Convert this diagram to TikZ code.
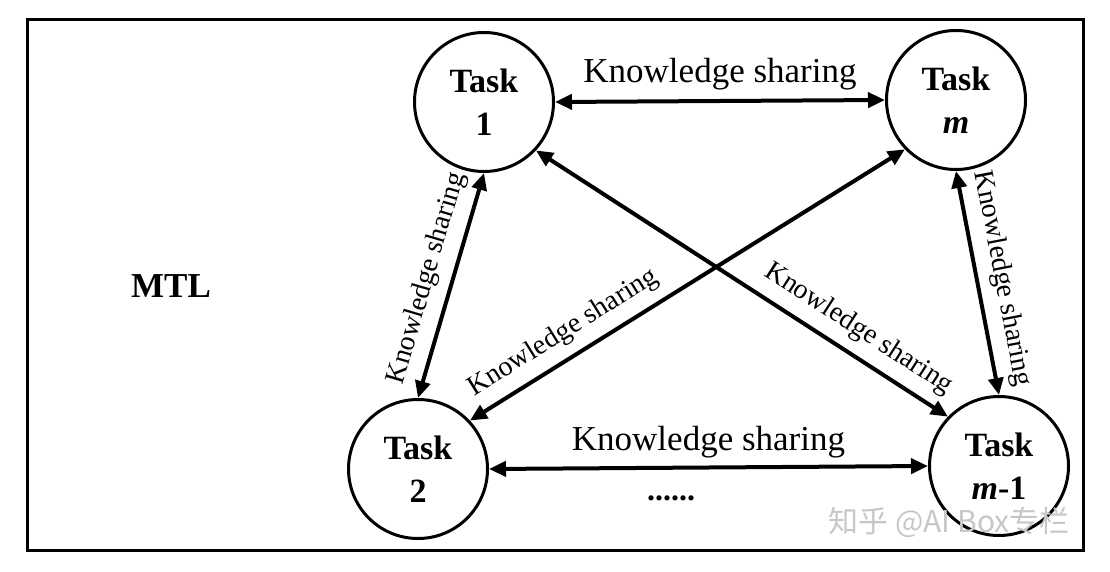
\documentclass[tikz,border=0pt]{standalone}
\usepackage{fontspec}
\setmainfont{Liberation Serif}
\newfontfamily\cjk{Noto Sans CJK SC}
\usetikzlibrary{arrows.meta}
\begin{document}
\begin{tikzpicture}[x=1pt,y=-1pt,
  taskbox/.style={circle,draw,line width=3pt,minimum size=139pt,inner sep=0pt,align=center,
    font=\fontsize{34}{43}\selectfont\bfseries},
  share/.style={line width=4pt,{Triangle[length=17pt,width=15pt]}-{Triangle[length=17pt,width=15pt]}},
  lbl/.style={font=\fontsize{35}{40}\selectfont},
  slbl/.style={font=\fontsize{28}{32}\selectfont,sloped,above=7pt}
]
\useasboundingbox (0,0) rectangle (1110,572);
\draw[line width=3pt] (27,20) rectangle (1083,550);
\node[taskbox] (t1) at (484,102) {Task\\1};
\node[taskbox] (tm) at (956,100) {Task\\\textit{m}};
\node[taskbox] (t2) at (418,469) {Task\\2};
\node[taskbox] (tm1) at (999,466) {Task\\\textit{m}-1};
\node[font=\fontsize{35}{40}\selectfont\bfseries] (mtl) at (171,286) {MTL};
\draw[share] (t1.east) -- node[lbl,above=6pt] (l1) {Knowledge sharing} (tm.west);
\draw[share] (t2.east) -- node[lbl,above=4pt] (l2) {Knowledge sharing} (tm1.west);
\node[font=\fontsize{32}{36}\selectfont\bfseries] (dots) at (671,498) {......};
\draw[share] (t2.north) -- node[slbl] (l3) {Knowledge sharing} (t1.south);
\draw[share] (tm.south) -- node[slbl] (l4) {Knowledge sharing} (tm1.north);
\draw[share] (t2.43) -- node[slbl,pos=0.245] (l5) {Knowledge sharing} (tm.224);
\draw[share] (t1.317) -- node[slbl,pos=0.75] (l6) {Knowledge sharing} (tm1.136);
\node[text=black!22,font=\cjk\fontsize{30}{34}\selectfont] (wm) at (949,522) {知乎 @AI Box专栏};
\end{tikzpicture}
\end{document}
